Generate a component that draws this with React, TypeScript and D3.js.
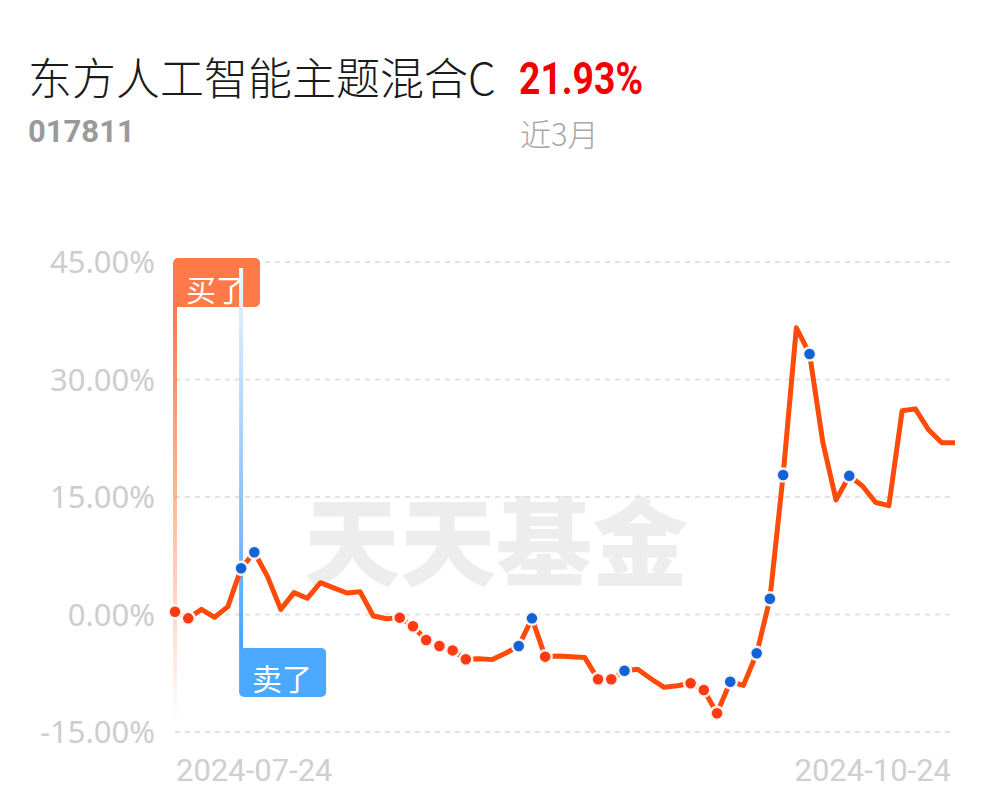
import React, { useEffect, useRef } from 'react';
import * as d3 from 'd3';

// trading days shown on the chart (2024-07-24 .. 2024-10-24)
const dates = [
  '2024-07-24', '2024-07-25', '2024-07-26', '2024-07-29', '2024-07-30', '2024-07-31',
  '2024-08-01', '2024-08-02', '2024-08-05', '2024-08-06', '2024-08-07', '2024-08-08',
  '2024-08-09', '2024-08-12', '2024-08-13', '2024-08-14', '2024-08-15', '2024-08-16',
  '2024-08-19', '2024-08-20', '2024-08-21', '2024-08-22', '2024-08-23', '2024-08-26',
  '2024-08-27', '2024-08-28', '2024-08-29', '2024-08-30',
  '2024-09-02', '2024-09-03', '2024-09-04', '2024-09-05', '2024-09-06', '2024-09-09',
  '2024-09-10', '2024-09-11', '2024-09-12', '2024-09-13', '2024-09-18', '2024-09-19',
  '2024-09-20', '2024-09-23', '2024-09-24', '2024-09-25', '2024-09-26', '2024-09-27',
  '2024-09-30',
  '2024-10-08', '2024-10-09', '2024-10-10', '2024-10-11', '2024-10-14', '2024-10-15',
  '2024-10-16', '2024-10-17', '2024-10-18', '2024-10-21', '2024-10-22', '2024-10-23',
  '2024-10-24',
];

// cumulative return, %
const returns = [
  0.36, -0.49, 0.66, -0.36, 1.0, 5.9, 7.94, 4.83, 0.66, 2.79,
  2.07, 4.06, 3.4, 2.75, 2.91, -0.2, -0.55, -0.4, -1.5, -3.26,
  -4.02, -4.58, -5.72, -5.65, -5.76, -4.95, -4.02, -0.49, -5.38, -5.3,
  -5.4, -5.5, -8.27, -8.27, -7.17, -7.0, -8.2, -9.3, -9.1, -8.78,
  -9.64, -12.6, -8.58, -9.05, -4.95, 2.0, 17.81, 36.6, 33.26, 22.0,
  14.62, 17.7, 16.4, 14.3, 13.9, 26.0, 26.25, 23.58, 21.93, 21.93,
];

// days marked with dots
const redDots = [0, 1, 17, 18, 19, 20, 21, 22, 28, 32, 33, 39, 40, 41];
const blueDots = [5, 6, 26, 27, 34, 42, 44, 45, 46, 48, 51];

const yTicks = [45, 30, 15, 0, -15];

const fundName = '东方人工智能主题混合C';
const fundCode = '017811';
const periodReturn = '21.93%';
const periodLabel = '近3月';
const buyDate = '2024-07-24';
const sellDate = '2024-07-31';

export default function App() {
  const svgRef = useRef<SVGSVGElement>(null);

  useEffect(() => {
    if (!svgRef.current) return;
    const svg = d3.select(svgRef.current);
    svg.selectAll('*').remove();

    const x = d3.scalePoint<string>().domain(dates).range([175, 955]);
    const y = d3.scaleLinear().domain([-15, 45]).range([732, 262]);
    const xd = (i: number) => x(dates[i]) as number;

    const defs = svg.append('defs');
    const buyGrad = defs.append('linearGradient')
      .attr('id', 'buyGrad')
      .attr('gradientUnits', 'userSpaceOnUse')
      .attr('x1', 0).attr('x2', 0)
      .attr('y1', 306).attr('y2', 726);
    buyGrad.append('stop').attr('offset', 0).attr('stop-color', '#ff7a45');
    buyGrad.append('stop').attr('offset', 1).attr('stop-color', '#ff7a45').attr('stop-opacity', 0);

    const sellGrad = defs.append('linearGradient')
      .attr('id', 'sellGrad')
      .attr('gradientUnits', 'userSpaceOnUse')
      .attr('x1', 0).attr('x2', 0)
      .attr('y1', 268).attr('y2', 648);
    sellGrad.append('stop').attr('offset', 0).attr('stop-color', '#eef6ff');
    sellGrad.append('stop').attr('offset', 1).attr('stop-color', '#4aa3f8');

    // header
    svg.append('text')
      .attr('x', 28).attr('y', 95)
      .attr('font-family', '"Noto Sans CJK SC", sans-serif')
      .attr('font-weight', 300)
      .attr('font-size', 44)
      .attr('fill', '#1a1a1a')
      .text(fundName);
    svg.append('text')
      .attr('x', 519).attr('y', 94)
      .attr('font-family', 'Roboto, sans-serif')
      .attr('font-weight', 700)
      .attr('font-size', 44)
      .attr('textLength', 124)
      .attr('lengthAdjust', 'spacingAndGlyphs')
      .attr('fill', '#f20000')
      .text(periodReturn);
    svg.append('text')
      .attr('x', 28).attr('y', 142)
      .attr('font-family', 'Roboto, sans-serif')
      .attr('font-weight', 700)
      .attr('font-size', 31)
      .attr('fill', '#9a9a9a')
      .text(fundCode);
    svg.append('text')
      .attr('x', 520).attr('y', 146)
      .attr('font-family', '"Noto Sans CJK SC", sans-serif')
      .attr('font-weight', 300)
      .attr('font-size', 31)
      .attr('fill', '#a8a8a8')
      .text(periodLabel);

    // watermark
    svg.append('text')
      .attr('x', 496).attr('y', 536)
      .attr('text-anchor', 'middle')
      .attr('dominant-baseline', 'central')
      .attr('font-family', '"Noto Sans CJK SC", sans-serif')
      .attr('font-weight', 900)
      .attr('font-size', 96)
      .attr('fill', '#ededed')
      .text('天天基金');

    // grid + y labels
    const grid = svg.append('g');
    grid.selectAll('line')
      .data(yTicks)
      .enter()
      .append('line')
      .attr('x1', 175).attr('x2', 955)
      .attr('y1', d => y(d)).attr('y2', d => y(d))
      .attr('stroke', '#e2e2e2')
      .attr('stroke-width', 2)
      .attr('stroke-dasharray', '5,5');
    grid.selectAll('text')
      .data(yTicks)
      .enter()
      .append('text')
      .attr('x', 155)
      .attr('y', d => y(d))
      .attr('dy', '0.36em')
      .attr('text-anchor', 'end')
      .attr('font-family', '"Noto Sans", sans-serif')
      .attr('font-size', 31)
      .attr('fill', '#cdcdcd')
      .text(d => `${d.toFixed(2)}%`);

    // date labels
    svg.append('text')
      .attr('x', 176).attr('y', 781)
      .attr('font-family', 'Roboto, sans-serif')
      .attr('font-size', 31)
      .attr('fill', '#cfcfcf')
      .text(dates[0]);
    svg.append('text')
      .attr('x', 951).attr('y', 781)
      .attr('text-anchor', 'end')
      .attr('font-family', 'Roboto, sans-serif')
      .attr('font-size', 31)
      .attr('fill', '#cfcfcf')
      .text(dates[dates.length - 1]);

    // buy marker
    const bx = x(buyDate) as number;
    svg.append('line')
      .attr('x1', bx).attr('x2', bx)
      .attr('y1', 300).attr('y2', 726)
      .attr('stroke', 'url(#buyGrad)')
      .attr('stroke-width', 4);
    svg.append('rect')
      .attr('x', bx - 2).attr('y', 258)
      .attr('width', 87).attr('height', 49)
      .attr('rx', 5)
      .attr('fill', '#ff7a48');
    svg.append('text')
      .attr('x', bx + 41).attr('y', 288)
      .attr('text-anchor', 'middle')
      .attr('dominant-baseline', 'central')
      .attr('font-family', '"Noto Sans CJK SC", sans-serif')
      .attr('font-size', 30)
      .attr('fill', '#fff')
      .text('买了');

    // sell marker
    const sx = x(sellDate) as number;
    svg.append('line')
      .attr('x1', sx).attr('x2', sx)
      .attr('y1', 268).attr('y2', 652)
      .attr('stroke', 'url(#sellGrad)')
      .attr('stroke-width', 4);
    svg.append('rect')
      .attr('x', sx - 2).attr('y', 648)
      .attr('width', 87).attr('height', 49)
      .attr('rx', 5)
      .attr('fill', '#4aa8ff');
    svg.append('text')
      .attr('x', sx + 41).attr('y', 677)
      .attr('text-anchor', 'middle')
      .attr('dominant-baseline', 'central')
      .attr('font-family', '"Noto Sans CJK SC", sans-serif')
      .attr('font-size', 30)
      .attr('fill', '#fff')
      .text('卖了');

    // return line
    const line = d3.line<number>()
      .x((_, i) => xd(i))
      .y(d => y(d));
    svg.append('path')
      .datum(returns)
      .attr('d', line)
      .attr('fill', 'none')
      .attr('stroke', '#ff4b0a')
      .attr('stroke-width', 5)
      .attr('stroke-linejoin', 'round');

    // dots
    svg.append('g')
      .selectAll('circle')
      .data(redDots)
      .enter()
      .append('circle')
      .attr('cx', d => xd(d))
      .attr('cy', d => y(returns[d]))
      .attr('r', 6.5)
      .attr('fill', '#ff3a12')
      .attr('stroke', '#fff')
      .attr('stroke-opacity', 0.9)
      .attr('stroke-width', 2.5);
    svg.append('g')
      .selectAll('circle')
      .data(blueDots)
      .enter()
      .append('circle')
      .attr('cx', d => xd(d))
      .attr('cy', d => y(returns[d]))
      .attr('r', 6.5)
      .attr('fill', '#1463d6')
      .attr('stroke', '#fff')
      .attr('stroke-opacity', 0.9)
      .attr('stroke-width', 2.5);
  }, []);

  return (
    <div style={{ position: 'absolute', left: 0, top: 0, width: 997, height: 802, background: '#fff' }}>
      <svg ref={svgRef} width={997} height={802} style={{ display: 'block' }} />
    </div>
  );
}
